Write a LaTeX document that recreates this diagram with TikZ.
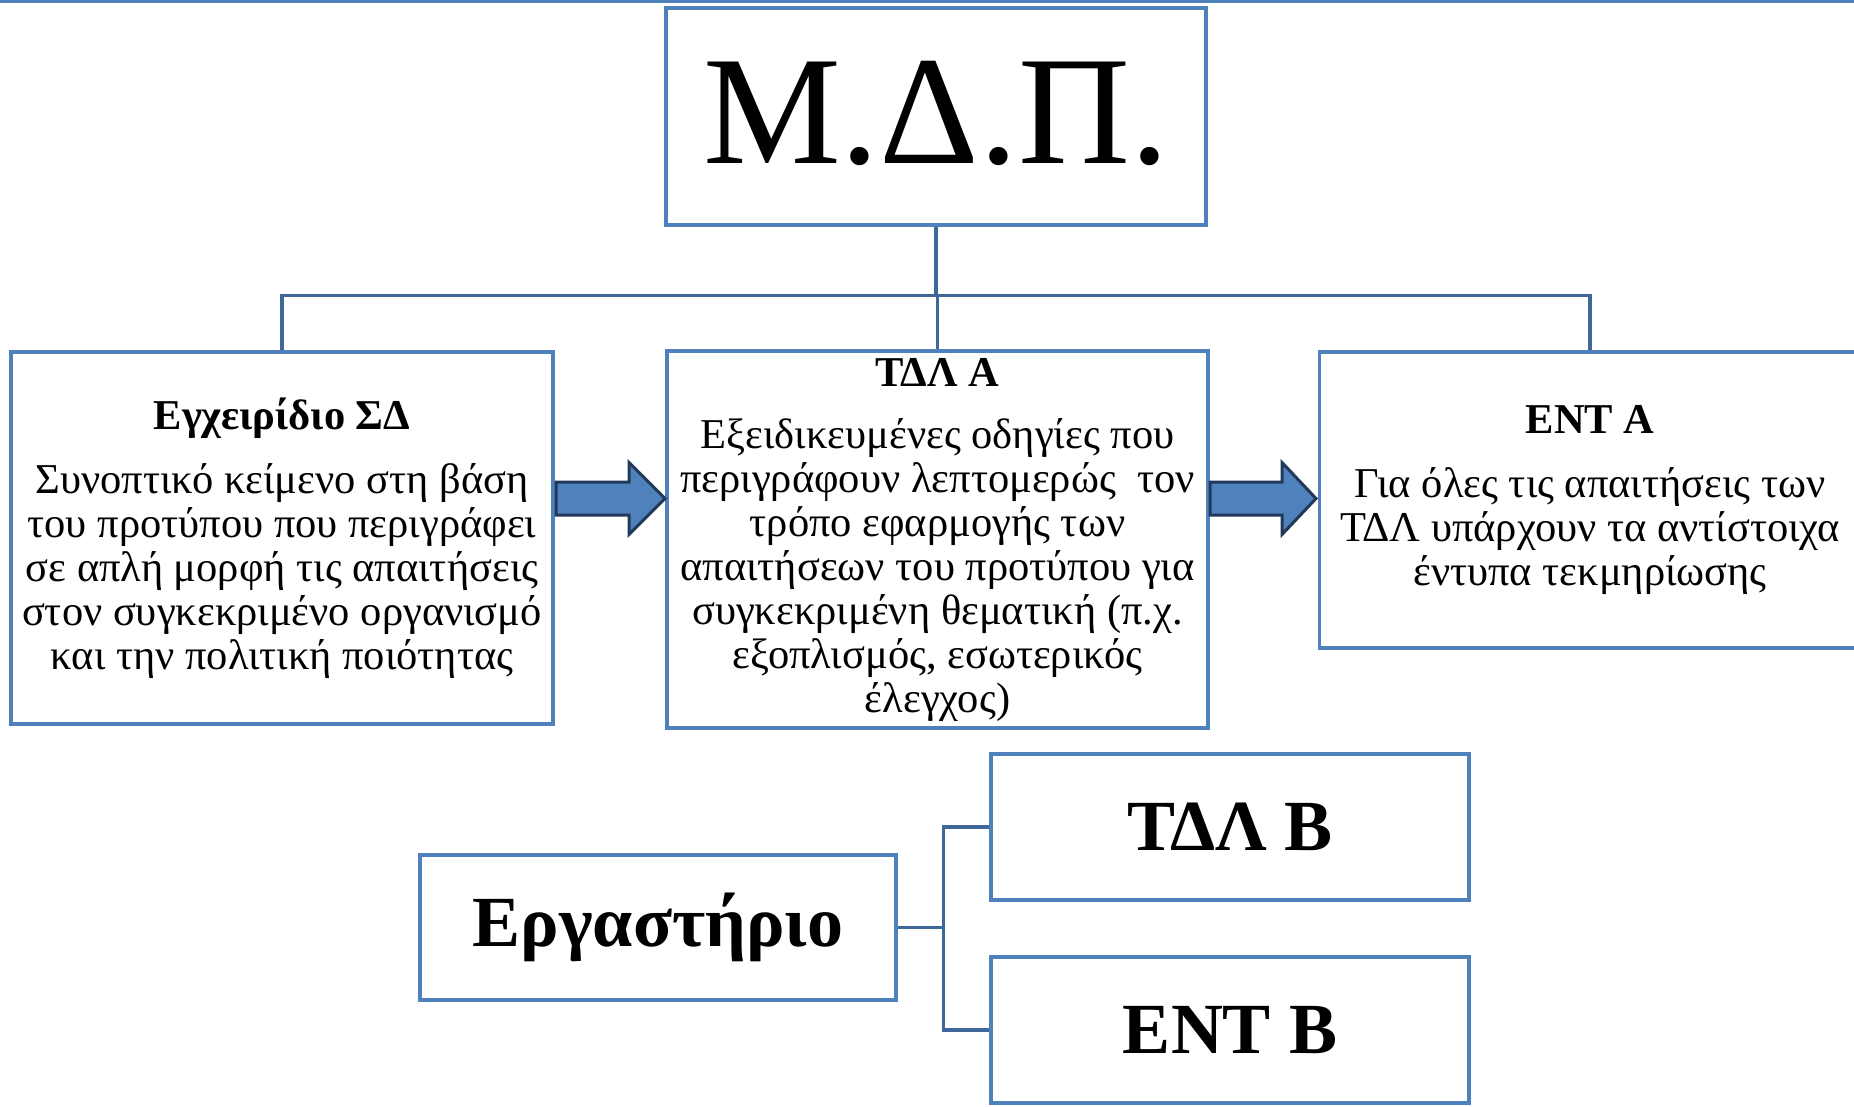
\documentclass[tikz,border=0pt]{standalone}
\usepackage{fontspec}
\setmainfont{Liberation Serif}
\usetikzlibrary{calc}
\definecolor{boxblue}{HTML}{4F81BD}
\definecolor{linkblue}{HTML}{3F679A}
\definecolor{arrowedge}{HTML}{22395A}
\begin{document}
\begin{tikzpicture}[x=1pt,y=-1pt,
  box/.style={draw=boxblue, line width=3.5pt, rectangle, inner sep=0pt, align=center, fill=white},
  link/.style={draw=linkblue, line width=3.5pt},
  blockarrow/.style={fill=boxblue, draw=arrowedge, line width=3pt, line join=miter},
  body/.style={font=\fontsize{42.5}{44}\selectfont},
  big/.style={font=\fontsize{72}{80}\selectfont\bfseries}]
\useasboundingbox (0,0) rectangle (1854,1106);
\draw[boxblue, line width=3pt] (0,1.5) -- (1854,1.5);

\node[box, minimum width=540pt, minimum height=217pt, font=\fontsize{155}{160}\selectfont] (mdp) at (936,116.5) {\raisebox{8pt}{Μ.Δ.Π.}};

\node[box, minimum width=542pt, minimum height=372pt, body] (manual) at (282,538)
 {\textbf{Εγχειρίδιο ΣΔ}\\[20pt]
  Συνοπτικό κείμενο στη βάση\\
  του προτύπου που περιγράφει\\
  σε απλή μορφή τις απαιτήσεις\\
  στον συγκεκριμένο οργανισμό\\
  και την πολιτική ποιότητας};

\node[box, minimum width=541pt, minimum height=377pt, body] (tdla) at (937.5,539.5)
 {\textbf{ΤΔΛ Α}\\[18pt]
  Εξειδικευμένες οδηγίες που\\
  περιγράφουν λεπτομερώς \ τον\\
  τρόπο εφαρμογής των\\
  απαιτήσεων του προτύπου για\\
  συγκεκριμένη θεματική (π.χ.\\
  εξοπλισμός, εσωτερικός\\
  έλεγχος)};

\node[box, minimum width=541pt, minimum height=296pt, body] (enta) at (1590,500)
 {\textbf{ΕΝΤ Α}\\[20pt]
  Για όλες τις απαιτήσεις των\\
  ΤΔΛ υπάρχουν τα αντίστοιχα\\
  έντυπα τεκμηρίωσης};

\coordinate (bus) at (936,295.6);
\draw[link] (mdp.south) -- (bus);
\draw[link] (manual.north) -- (manual.north |- bus) -- (enta.north |- bus) -- (enta.north);
\draw[link] (tdla.north |- bus) -- (tdla.north);

\draw[blockarrow] (556,482) -- (629,482) -- (629,462.5) -- (665,498.5) -- (629,534.5) -- (629,515) -- (556,515) -- cycle;
\draw[blockarrow] (1210,482) -- (1282,482) -- (1282,462.5) -- (1316,498.5) -- (1282,534.5) -- (1282,515) -- (1210,515) -- cycle;

\node[box, minimum width=476pt, minimum height=145pt, big] (lab) at (658,927.5) {\raisebox{-4pt}{Εργαστήριο}};
\node[box, minimum width=478pt, minimum height=146pt, big] (tdlb) at (1230,827) {ΤΔΛ Β};
\node[box, minimum width=478pt, minimum height=146pt, big] (entb) at (1230,1030) {ΕΝΤ Β};

\coordinate (elbow) at (943.6,927.5);
\draw[link] (lab.east) -- (elbow);
\draw[link] (tdlb.west) -- (elbow |- tdlb.west) -- (elbow |- entb.west) -- (entb.west);
\end{tikzpicture}
\end{document}
